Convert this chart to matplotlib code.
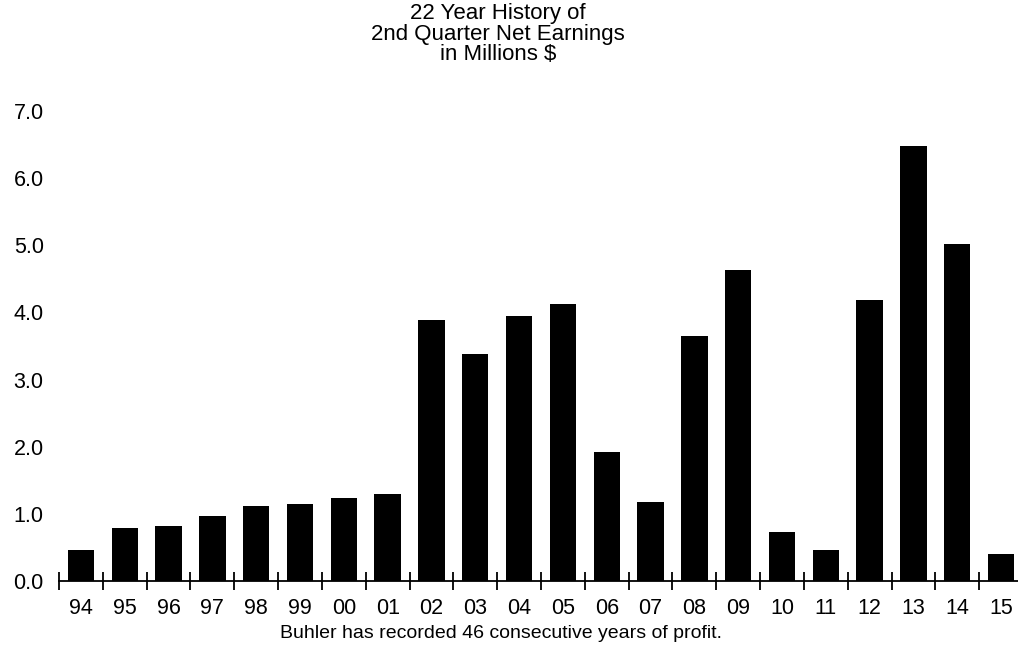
import matplotlib
matplotlib.use("Agg")
import matplotlib.pyplot as plt
import numpy as np

years = ["94", "95", "96", "97", "98", "99", "00", "01", "02", "03", "04",
         "05", "06", "07", "08", "09", "10", "11", "12", "13", "14", "15"]
earnings = [0.46, 0.79, 0.82, 0.97, 1.12, 1.15, 1.24, 1.30, 3.89, 3.38, 3.95,
            4.13, 1.92, 1.18, 3.65, 4.63, 0.73, 0.46, 4.19, 6.48, 5.02, 0.40]
yticks = [0.0, 1.0, 2.0, 3.0, 4.0, 5.0, 6.0, 7.0]
title_lines = ["22 Year History of", "2nd Quarter Net Earnings", "in Millions $"]
caption = "Buhler has recorded 46 consecutive years of profit."

plt.rcParams['font.family'] = ['Liberation Sans', 'DejaVu Sans']
fs = 15.5

fig = plt.figure(figsize=(10.18, 6.52), dpi=100)
ax = fig.add_axes([59 / 1018, 71 / 652, (1023 - 59) / 1018, 470 / 652])

x = np.arange(len(years))
ax.bar(x, earnings, width=0.6, color="black", zorder=3)

ax.set_xlim(-0.5, len(years) - 0.5)
ax.set_ylim(0, 7.0)

for s in ["top", "right", "left"]:
    ax.spines[s].set_visible(False)
ax.spines["bottom"].set_linewidth(1.3)
ax.spines["bottom"].set_color("black")

# Major ticks at category boundaries, labels at category centres (minor)
ax.set_xticks(np.arange(-0.5, len(years) - 0.5, 1.0))
ax.set_xticklabels([])
ax.set_xticks(x, minor=True)
ax.set_xticklabels(years, minor=True, fontsize=fs)
ax.tick_params(axis="x", which="major", direction="inout", length=13, width=1.3, color="black")
ax.tick_params(axis="x", which="minor", length=0, pad=12)

ax.set_yticks(yticks)
ax.set_yticklabels([f"{v:.1f}" for v in yticks], fontsize=fs)
ax.tick_params(axis="y", length=0, pad=11)

fig.text(0.489, 1 - 3 / 652, "\n".join(title_lines), ha="center", va="top",
         fontsize=16, linespacing=0.98)
fig.text(0.492, 1 - 633 / 652, caption, ha="center", va="center", fontsize=14)

fig.savefig("out.png", dpi=100)
